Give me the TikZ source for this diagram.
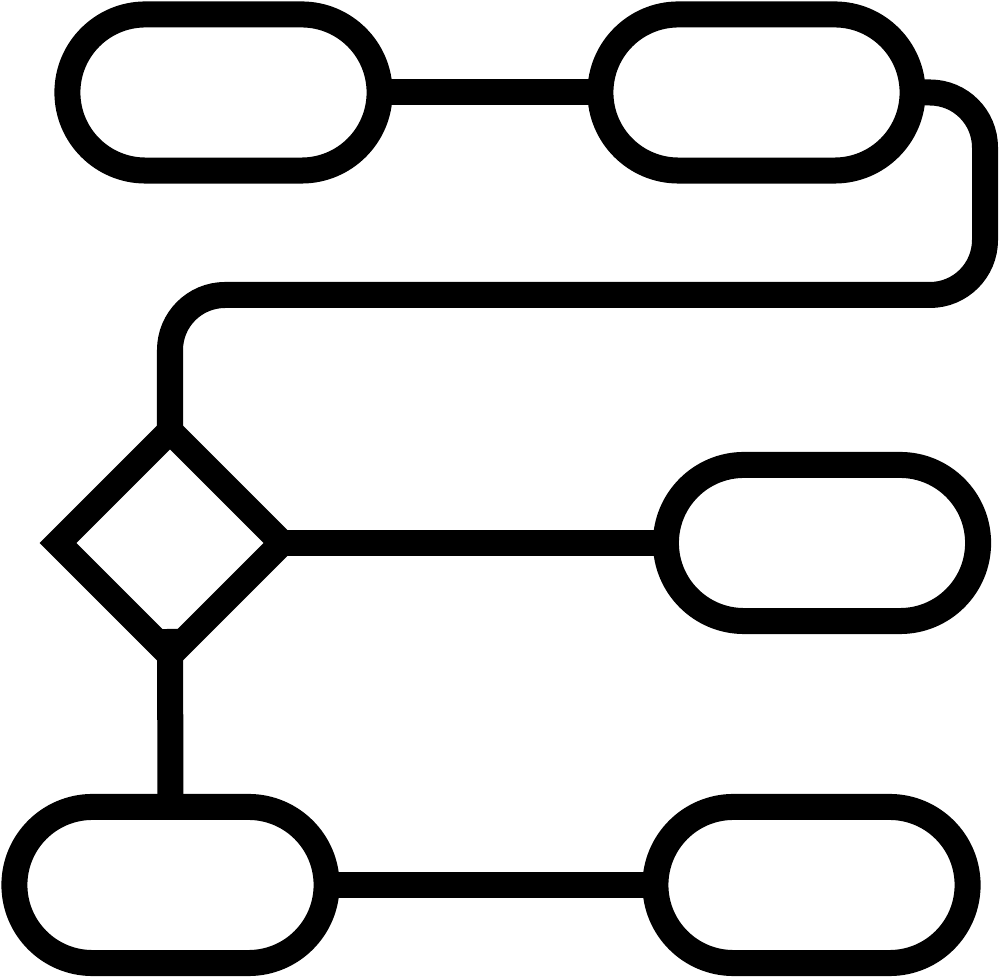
\documentclass[tikz,border=0pt]{standalone}
\usepackage{tikz}
\usetikzlibrary{shapes.misc, shapes.geometric}

\begin{document}
\begin{tikzpicture}[
    x = 0.01cm, y = -0.01cm,
    line width = 0.26cm,
    stage/.style = {
      rounded rectangle, draw, minimum width = 3.12cm, minimum height = 1.56cm,
      inner sep = 0pt, outer sep = 0pt
    },
    decision/.style = {
      diamond, draw, minimum width = 2.24cm, minimum height = 2.24cm,
      inner sep = 0pt, outer sep = 0pt, aspect = 1
    }]
      \useasboundingbox (0,0) rectangle (1000,977);
      % stages
      \node [stage] (start)  at (223.5, 92.5) {};
      \node [stage] (load)   at (756.5, 92.5) {};
      \node [stage] (yes)    at (822, 543) {};
      \node [stage] (no)     at (170.5, 885) {};
      \node [stage] (finish) at (811.5, 885) {};
      \node [decision] (check) at (170, 543) {};
      \coordinate (bend) at (985, 295);
      % connectors
      \draw (start.east) -- (load.west);
      \draw [rounded corners = 5.5mm] (load.east) -| (bend) -| (check.north);
      \draw (check.east) -- (yes.west);
      \draw (check.center) ++(0, 86) -- (no.north);
      \draw (no.east) -- (finish.west);
\end{tikzpicture}
\end{document}
